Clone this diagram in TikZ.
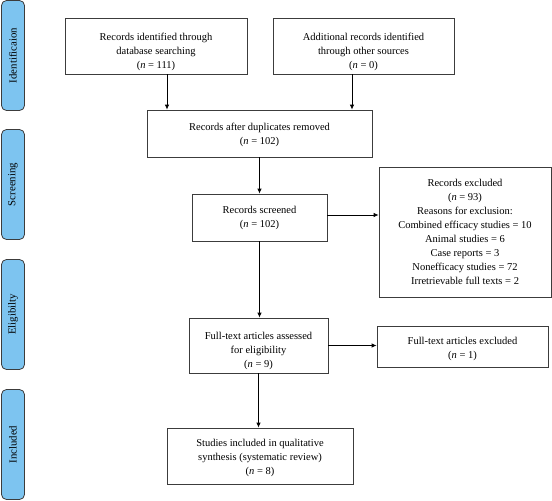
\documentclass[tikz,border=0pt]{standalone}
\usepackage{fontspec}
\setmainfont{Liberation Serif}
\usetikzlibrary{arrows.meta}
\definecolor{sidebl}{RGB}{125,196,240}
\definecolor{linegray}{RGB}{60,60,60}
\begin{document}
\begin{tikzpicture}[x=1pt,y=-1pt,
  box/.style={draw=linegray, line width=0.8pt, fill=white, inner sep=0pt},
  txt/.style={align=center, inner sep=0pt, font=\fontsize{10.5}{14}\selectfont},
  side/.style={draw=linegray, fill=sidebl, rounded corners=5pt, line width=0.8pt,
    rotate=90, minimum width=110pt, minimum height=23pt, inner sep=0pt,
    font=\fontsize{10.8}{12}\selectfont},
  arr/.style={draw=black, line width=0.8pt, -{Latex[length=5pt,width=4.5pt]}}]
\useasboundingbox (0,0) rectangle (552,501);

% side bars
\node[side] (sid) at (13,55.5) {Identificaion};
\node[side] (sscr) at (13,184.5) {Screening};
\node[side] (seli) at (13,314.5) {Eligibilty};
\node[side] (sinc) at (13,444.5) {Included};

% boxes
\node[box, minimum width=182pt, minimum height=56pt] (b1) at (156,46) {};
\node[txt] (t1) at ([yshift=-5.5pt]b1.center)
  {Records identified through\\database searching\\(\textit{n} = 111)};
\node[box, minimum width=181pt, minimum height=56pt] (b2) at (363.5,46) {};
\node[txt] (t2) at ([yshift=-5.5pt]b2.center)
  {Additional records identified\\through other sources\\(\textit{n} = 0)};
\node[box, minimum width=225pt, minimum height=47pt] (b3) at (259.5,133.5) {};
\node[txt] (t3) at ([yshift=-1.5pt]b3.center)
  {Records after duplicates removed\\(\textit{n} = 102)};
\node[box, minimum width=135pt, minimum height=47pt] (b4) at (259.5,217.5) {};
\node[txt] (t4) at (b4.center)
  {Records screened\\(\textit{n} = 102)};
\node[box, minimum width=172pt, minimum height=130pt] (b5) at (465,232) {};
\node[txt] (t5) at (b5.center)
  {Records excluded\\(\textit{n} = 93)\\Reasons for exclusion:\\Combined efficacy studies = 10\\Animal studies = 6\\Case reports = 3\\Nonefficacy studies = 72\\Irretrievable full texts = 2};
\node[box, minimum width=139pt, minimum height=55pt] (b6) at (258.5,345.5) {};
\node[txt] (t6) at ([yshift=-5pt]b6.center)
  {Full-text articles assessed\\for eligibility\\(\textit{n} = 9)};
\node[box, minimum width=171pt, minimum height=41pt] (b8) at (462.5,346.5) {};
\node[txt] (t8) at ([yshift=-2.5pt]b8.center)
  {Full-text articles excluded\\(\textit{n} = 1)};
\node[box, minimum width=186pt, minimum height=56pt] (b7) at (260,456) {};
\node[txt] (t7) at ([yshift=-2pt]b7.center)
  {Studies included in qualitative\\synthesis (systematic review)\\(\textit{n} = 8)};

% arrows
\draw[arr] ([xshift=11pt]b1.south) -- ([xshift=11pt]b1.south |- b3.north);
\draw[arr] ([xshift=-11.5pt]b2.south) -- ([xshift=-11.5pt]b2.south |- b3.north);
\draw[arr] (b3.south) -- (b3.south |- b4.north);
\draw[arr] ([yshift=2.5pt]b4.east) -- ([yshift=2.5pt]b4.east -| b5.west);
\draw[arr] (b4.south) -- (b4.south |- b6.north);
\draw[arr] (b6.east) -- (b6.east -| b8.west);
\draw[arr] (b6.south) -- (b6.south |- b7.north);
\end{tikzpicture}
\end{document}
